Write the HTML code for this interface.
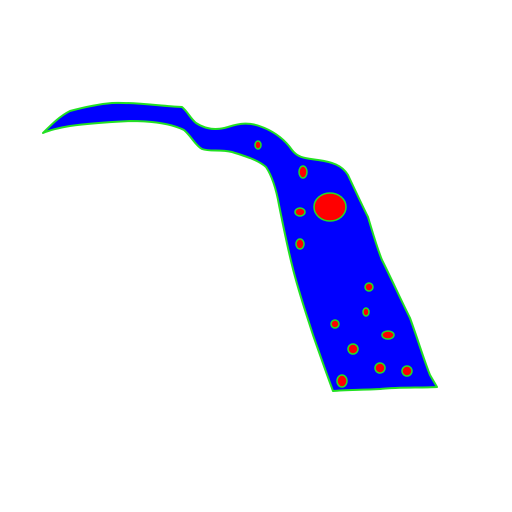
<!DOCTYPE html>
<html><head><meta charset="utf-8"><style>html,body{margin:0;padding:0;background:#fff;width:512px;height:512px;overflow:hidden}</style></head>
<body>
<svg width="512" height="512" viewBox="0 0 512 512">
<path fill="#0000ff" stroke="#22e022" stroke-width="2" stroke-linejoin="round"
d="M43,133 C52,124 60,116 70,111 C85,107 100,104 112,103 C135,102 160,106 182,107 C188,112 190,118 196,123 C205,129 215,131 228,127 C240,123 250,122 262,127 C275,132 285,140 292,150 C298,158 305,158 318,160 C332,162 342,165 348,175 C355,190 362,205 368,217 C372,230 376,245 382,260 C392,280 400,298 410,318 C418,340 424,360 430,375 L437,387 C420,388 400,387 380,389 C360,390 345,390 333,391 C327,375 320,355 313,335 C305,310 298,290 292,265 C287,245 283,225 279,205 C276,188 272,176 266,167 C258,160 245,156 232,152 C220,149 210,152 202,149 C195,145 192,137 184,130 C170,123 150,121 130,121 C110,122 90,123 70,126 C58,128 50,130 43,133 Z"/>
<g id="blobs" fill="#ff0000" stroke="#22e022" stroke-width="1.5"></g>
</svg>
<script>
const blobX=[330,258,303,300,300,369,335,366,388,353,380,407,342];
const blobY=[207,145,172,212,244,287,324,312,335,349,368,371,381];
const blobRx=[16,3,4,5,4,4,4,3,6,5,5,5,5];
const blobRy=[14,4,6,4,5,4,4,4,4,5,5,5,6];
const g=document.getElementById('blobs');
for(let i=0;i<blobX.length;i++){
const e=document.createElementNS('http://www.w3.org/2000/svg','ellipse');


e.setAttribute('cx',blobX[i]);e.setAttribute('cy',blobY[i]);
e.setAttribute('rx',blobRx[i]);e.setAttribute('ry',blobRy[i]);
g.appendChild(e);}
</script>
</body></html>
